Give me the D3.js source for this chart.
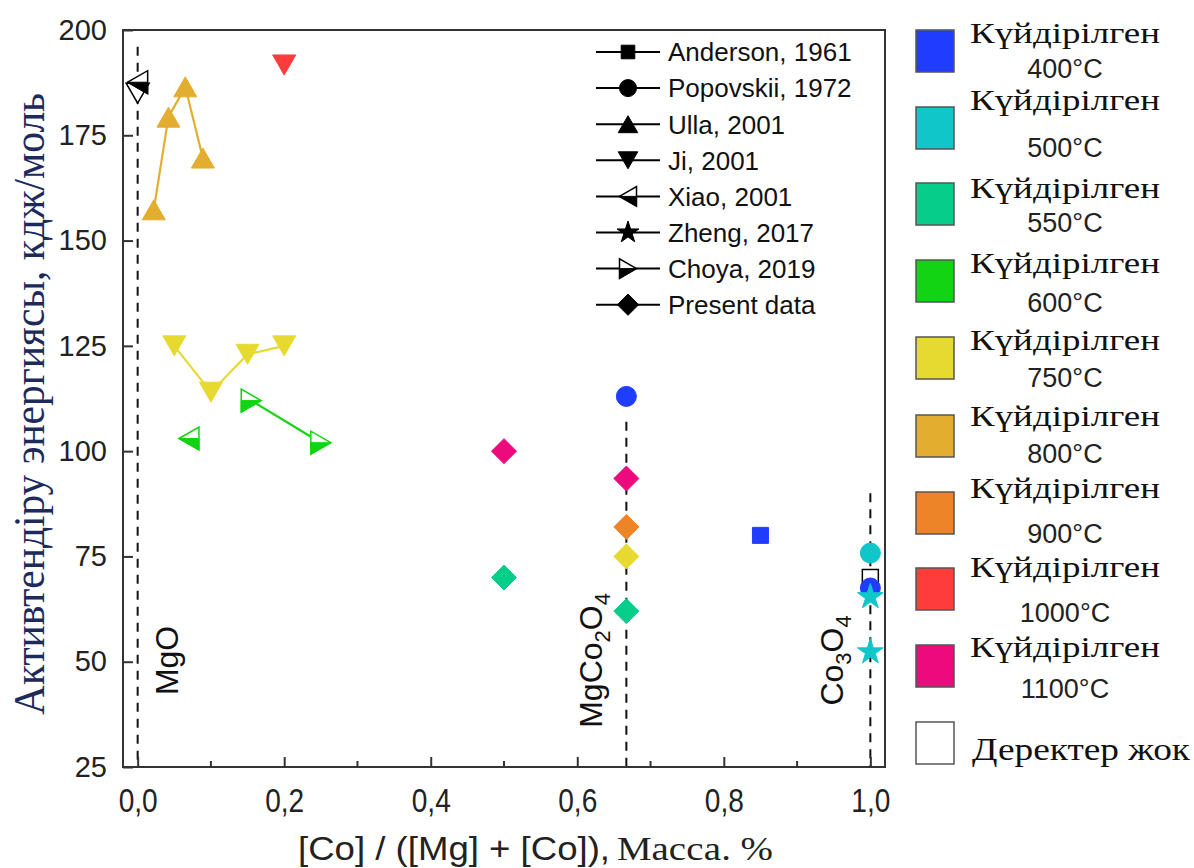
<!DOCTYPE html>
<meta charset="utf-8">
<style>
    body { margin: 0; background: #fff; }
    svg { display: block; }
    .sans { font-family: "Liberation Sans", Arial, sans-serif; }
    .serif { font-family: "Liberation Serif", "Times New Roman", serif; }
</style>
<svg width="1194" height="868"></svg>
<script src="https://cdn.jsdelivr.net/npm/d3@7"></script>
<script>

    // ---- data ----
    var xTicks = [0, 0.2, 0.4, 0.6, 0.8, 1.0];
    var xMinor = [0.1, 0.3, 0.5, 0.7, 0.9];
    var yTicks = [25, 50, 75, 100, 125, 150, 175, 200];

    var tempKeys = ["400", "500", "550", "600", "750", "800", "900", "1000", "1100", "none"];
    var tempLabels = ["400°C", "500°C", "550°C", "600°C", "750°C", "800°C", "900°C", "1000°C", "1100°C", "Деректер жок"];
    var tempColors = ["#1f3cff", "#10c6c9", "#05cd8a", "#12d412", "#e6da30", "#e3ad30", "#ee8428", "#ff3c3c", "#ec0a7c", "#ffffff"];

    var sourceNames = ["Anderson, 1961", "Popovskii, 1972", "Ulla, 2001", "Ji, 2001", "Xiao, 2001", "Zheng, 2017", "Choya, 2019", "Present data"];
    var sourceShapes = ["square", "circle", "up", "down", "left", "star", "right", "diamond"];

    // [x, energy, temperature key]
    var anderson = [[0.85, 80, "400"], [1.0, 70, "none"]];
    var popovskii = [[0.667, 113, "400"], [1.0, 75.8, "500"], [1.0, 67.5, "400"]];
    var ulla = [[0.022, 157.3, "800"], [0.042, 179.3, "800"], [0.065, 186.5, "800"], [0.089, 169.6, "800"]];
    var jiSingle = [[0, 185, "none"], [0.2, 191.7, "1000"]];
    var jiSeries = [[0.05, 125, "750"], [0.1, 114, "750"], [0.15, 123, "750"], [0.2, 125, "750"]];
    var xiao = [[0, 187.6, "black"], [0.07, 103, "600"]];
    var zheng = [[1.0, 65.4, "500"], [1.0, 52.3, "500"]];
    var choya = [[0.155, 112, "600"], [0.25, 102, "600"]];
    var present = [[0.5, 100, "1100"], [0.5, 70, "550"], [0.667, 93.5, "1100"], [0.667, 82, "900"], [0.667, 75, "750"], [0.667, 62, "550"]];

    // phase reference lines: x, top of dashed line
    var phaseX = [0, 0.667, 1.0];
    var phaseTop = [196, 107, 90];

    var series = [
        {shape: "square", pts: anderson, line: false},
        {shape: "circle", pts: popovskii, line: false},
        {shape: "up", pts: ulla, line: true},
        {shape: "down", pts: jiSingle, line: false},
        {shape: "down", pts: jiSeries, line: true},
        {shape: "left", pts: xiao, line: false},
        {shape: "star", pts: zheng, line: false},
        {shape: "right", pts: choya, line: true},
        {shape: "diamond", pts: present, line: false}
    ];

    var svg = d3.select("svg"),
        margin = {top: 30, right: 309, bottom: 101, left: 123},
        width = 1194 - margin.left - margin.right,
        height = 868 - margin.top - margin.bottom,
        g = svg.append("g").attr("transform", "translate(" + margin.left + "," + margin.top + ")");

    var x = d3.scaleLinear().domain([-0.02, 1.02]).range([0, width]),
        y = d3.scaleLinear().domain([25, 200]).range([height, 0]);

    var color = function(k) {
        if (k === "black") return "#000";
        return tempColors[tempKeys.indexOf(k)];
    };

    // marker paths, bounding-box centred
    function markerPath(shape, s) {
        var w = 11.5 * s, h = 20 * s;
        switch (shape) {
            case "square": return d3.symbol(d3.symbolSquare, Math.pow(16 * s, 2))();
            case "circle": return d3.symbol(d3.symbolCircle, Math.PI * Math.pow(10 * s, 2))();
            case "star": return d3.symbol(d3.symbolStar, Math.pow(13.5 * s, 2) / 0.8908)();
            case "diamond": var r = 12.5 * s; return "M0," + (-r) + "L" + r + ",0L0," + r + "L" + (-r) + ",0Z";
            case "up": return "M0," + (-h / 2) + "L" + w + "," + (h / 2) + "L" + (-w) + "," + (h / 2) + "Z";
            case "down": return "M0," + (h / 2) + "L" + w + "," + (-h / 2) + "L" + (-w) + "," + (-h / 2) + "Z";
            case "left": return "M" + (-h / 2) + ",0L" + (h / 2) + "," + (-w) + "L" + (h / 2) + "," + w + "Z";
            case "right": return "M" + (h / 2) + ",0L" + (-h / 2) + "," + (-w) + "L" + (-h / 2) + "," + w + "Z";
        }
    }
    // lower half of the half-filled triangles
    function halfPath(shape, s) {
        var w = 11.5 * s, h = 20 * s;
        if (shape === "left") return "M" + (-h / 2) + ",0L" + (h / 2) + ",0L" + (h / 2) + "," + w + "Z";
        return "M" + (h / 2) + ",0L" + (-h / 2) + ",0L" + (-h / 2) + "," + w + "Z";
    }

    function drawMarker(sel, shape, col, s) {
        var half = shape === "left" || shape === "right";
        var open = col === "#ffffff";
        sel.append("path")
            .attr("d", markerPath(shape, s))
            .attr("fill", half || open ? "#fff" : col)
            .attr("stroke", open ? "#000" : col)
            .attr("stroke-width", open || half ? 1.5 : 1)
            .attr("stroke-linejoin", "miter");
        if (half) {
            sel.append("path")
                .attr("d", halfPath(shape, s))
                .attr("fill", col)
                .attr("stroke", col)
                .attr("stroke-width", 1);
        }
    }

    // dashed phase lines
    g.selectAll(".phase")
        .data(phaseX)
        .enter().append("line")
        .attr("x1", function(d) { return x(d); })
        .attr("x2", function(d) { return x(d); })
        .attr("y1", function(d, i) { return y(phaseTop[i]); })
        .attr("y2", height)
        .attr("stroke", "#111")
        .attr("stroke-width", 2)
        .attr("stroke-dasharray", "9 7");

    // phase labels
    function phaseLabel(px, py, parts) {
        var t = g.append("text")
            .attr("class", "sans")
            .attr("transform", "translate(" + px + "," + py + ") rotate(-90)")
            .attr("text-anchor", "middle")
            .attr("font-size", 32)
            .attr("fill", "#111");
        parts.forEach(function(p) {
            t.append("tspan")
                .attr("font-size", p[1] ? 22 : 32)
                .attr("dy", p[1] ? 8 : (p[2] ? -8 : 0))
                .text(p[0]);
        });
    }
    phaseLabel(x(0) + 40, y(50.3), [["MgO"]]);
    phaseLabel(x(0.667) - 24, y(50.3), [["MgCo"], ["2", true], ["O", false, true], ["4", true]]);
    phaseLabel(x(1.0) - 27, y(50.3), [["Co"], ["3", true], ["O", false, true], ["4", true]]);

    // connecting lines
    var line = d3.line()
        .x(function(d) { return x(d[0]); })
        .y(function(d) { return y(d[1]); });

    series.filter(function(s) { return s.line; }).forEach(function(s) {
        g.append("path")
            .attr("d", line(s.pts))
            .attr("fill", "none")
            .attr("stroke", color(s.pts[0][2]))
            .attr("stroke-width", 2.2);
    });

    // markers
    series.forEach(function(s) {
        s.pts.forEach(function(p) {
            var m = g.append("g").attr("transform", "translate(" + x(p[0]) + "," + y(p[1]) + ")");
            drawMarker(m, s.shape, color(p[2]), 1);
        });
    });

    // frame
    g.append("rect")
        .attr("width", width)
        .attr("height", height)
        .attr("fill", "none")
        .attr("stroke", "#333")
        .attr("stroke-width", 2);

    // x axis (inward ticks)
    var xAxis = g.append("g")
        .attr("transform", "translate(0," + height + ")")
        .call(d3.axisBottom(x).tickValues(xTicks).tickSize(-10).tickPadding(22)
            .tickFormat(function(d) { return d3.format(".1f")(d).replace(".", ","); }));
    xAxis.call(function(a) { a.select(".domain").remove(); });
    xAxis.selectAll(".tick line").attr("stroke", "#333").attr("stroke-width", 2);
    xAxis.selectAll("text")
        .attr("class", "sans")
        .attr("font-size", 33)
        .attr("fill", "#222")
        .attr("textLength", 39)
        .attr("lengthAdjust", "spacingAndGlyphs");

    g.selectAll(".xminor")
        .data(xMinor)
        .enter().append("line")
        .attr("x1", function(d) { return x(d); })
        .attr("x2", function(d) { return x(d); })
        .attr("y1", height)
        .attr("y2", height - 6)
        .attr("stroke", "#333")
        .attr("stroke-width", 2);

    // y axis
    var yAxis = g.append("g")
        .call(d3.axisLeft(y).tickValues(yTicks).tickSize(-10).tickPadding(16));
    yAxis.call(function(a) { a.select(".domain").remove(); });
    yAxis.selectAll(".tick line").attr("stroke", "#333").attr("stroke-width", 2);
    yAxis.selectAll("text")
        .attr("class", "sans")
        .attr("font-size", 29)
        .attr("fill", "#222");

    // axis titles
    svg.append("text")
        .attr("class", "serif")
        .attr("transform", "translate(44,404) rotate(-90)")
        .attr("text-anchor", "middle")
        .attr("font-size", 44)
        .attr("fill", "#1d2a5c")
        .attr("textLength", 622)
        .attr("lengthAdjust", "spacingAndGlyphs")
        .text("Активтендіру энергиясы, кдж/моль");

    svg.append("text")
        .attr("class", "sans")
        .attr("x", 298)
        .attr("y", 860)
        .attr("font-size", 33)
        .attr("fill", "#222")
        .attr("textLength", 312)
        .attr("lengthAdjust", "spacingAndGlyphs")
        .text("[Co] / ([Mg] + [Co]),");
    svg.append("text")
        .attr("class", "serif")
        .attr("x", 617)
        .attr("y", 860)
        .attr("font-size", 33)
        .attr("fill", "#222")
        .attr("textLength", 156)
        .attr("lengthAdjust", "spacingAndGlyphs")
        .text("Масса. %");

    // source legend (inside plot)
    var leg = svg.append("g").attr("transform", "translate(596,52)");
    var row = leg.selectAll(".row")
        .data(sourceNames)
        .enter().append("g")
        .attr("transform", function(d, i) { return "translate(0," + (i * 36.1) + ")"; });
    row.append("line")
        .attr("x1", 0).attr("x2", 64)
        .attr("stroke", "#000").attr("stroke-width", 2);
    row.each(function(d, i) {
        var m = d3.select(this).append("g").attr("transform", "translate(32,0)");
        drawMarker(m, sourceShapes[i], "#000", 0.85);
    });
    row.append("text")
        .attr("class", "sans")
        .attr("x", 72)
        .attr("dy", "0.36em")
        .attr("font-size", 26)
        .attr("fill", "#111")
        .text(function(d) { return d; });

    // temperature legend (right)
    var swTop = [30, 107, 183, 260, 337, 415, 492, 568, 645, 722];
    var line1 = [13, 3, 15, 13, 13, 11, 6, 9, 12];
    var line2 = [48, 50, 49, 52, 50, 48, 51, 54, 53];
    var tleg = svg.append("g");
    tempKeys.forEach(function(k, i) {
        tleg.append("rect")
            .attr("x", 916).attr("y", swTop[i])
            .attr("width", 38).attr("height", 42)
            .attr("fill", tempColors[i])
            .attr("stroke", "#555")
            .attr("stroke-width", 1.5);
        if (k === "none") {
            tleg.append("text")
                .attr("class", "serif")
                .attr("x", 972).attr("y", swTop[i] + 38)
                .attr("font-size", 31)
                .attr("fill", "#111")
                .attr("textLength", 218)
                .attr("lengthAdjust", "spacingAndGlyphs")
                .text(tempLabels[i]);
            return;
        }
        tleg.append("text")
            .attr("class", "serif")
            .attr("x", 1065).attr("y", swTop[i] + line1[i])
            .attr("text-anchor", "middle")
            .attr("font-size", 30)
            .attr("fill", "#111")
            .attr("textLength", 190)
            .attr("lengthAdjust", "spacingAndGlyphs")
            .text("Күйдірілген");
        tleg.append("text")
            .attr("class", "sans")
            .attr("x", 1065).attr("y", swTop[i] + line2[i])
            .attr("text-anchor", "middle")
            .attr("font-size", 27)
            .attr("fill", "#222")
            .text(tempLabels[i]);
    });

</script>
